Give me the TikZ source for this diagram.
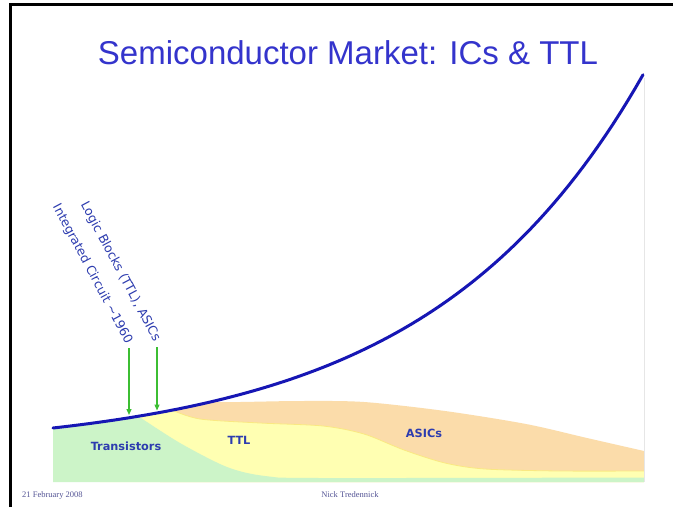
\documentclass[tikz,border=0pt]{standalone}
\usepackage{fontspec}
\setmainfont{Liberation Sans}
\newfontfamily\notefont{DejaVu Sans}
\newfontfamily\footfont{Liberation Serif}
\usetikzlibrary{arrows.meta}

\definecolor{titleblue}{RGB}{52,52,204}
\definecolor{curveblue}{RGB}{22,22,180}
\definecolor{labelblue}{RGB}{45,60,175}
\definecolor{arrowgreen}{RGB}{60,190,50}
\definecolor{transgreen}{RGB}{204,244,200}
\definecolor{ttlyellow}{RGB}{255,255,178}
\definecolor{ttledge}{RGB}{250,232,130}
\definecolor{asicpeach}{RGB}{251,220,170}
\definecolor{footblue}{RGB}{85,85,150}
\definecolor{edgegray}{RGB}{230,230,230}

\tikzset{
  titletext/.style={font=\fontsize{33}{36}\selectfont, text=titleblue, inner sep=0pt},
  arealabel/.style={font=\notefont\bfseries\fontsize{11.3}{13}\selectfont, text=labelblue, inner sep=0pt},
  eventlabel/.style={font=\notefont\fontsize{12.5}{14}\selectfont, text=labelblue, inner sep=0pt, rotate=-62, anchor=east},
  eventarrow/.style={draw=arrowgreen, line width=1.2pt, -{Triangle[length=6pt,width=5pt]}},
  footnote/.style={font=\footfont\fontsize{8.5}{10}\selectfont, text=footblue, inner sep=0pt},
  marketcurve/.style={draw=curveblue, line width=3pt, line cap=round}
}
% total market size as a function of the horizontal position
\def\market(#1){452-24*exp(0.00467*(#1-53))}

\begin{document}
\begin{tikzpicture}[x=1pt,y=-1pt]
\useasboundingbox (0,0) rectangle (673,507);
\fill[white] (0,0) rectangle (673,507);

% slide frame (left and top)
\draw[line width=3pt] (10.5,507) -- (10.5,4.5) -- (673,4.5);

% title
\node[titletext, anchor=base] (title) at (348,64) {Semiconductor Market: ICs \& TTL};

% right edge of the plot area
\draw[edgegray, line width=1pt] (644.5,78) -- (644.5,482);

% market segments, kept below the total-market curve
\begin{scope}
  \clip plot[domain=53:643, samples=80] (\x, {452-24*exp(0.00467*(\x-53))})
        -- (644,490) -- (53,490) -- cycle;
  % ASICs
  \fill[asicpeach] (160,380) -- (203,380)
     -- plot[smooth] coordinates {(206,402) (240,402) (300,401) (364,402) (445,411) (526,424) (587,438) (644,451)}
     -- (644,482) -- (160,482) -- cycle;
  % TTL
  \fill[ttlyellow] (100,380) -- (172,380)
     -- plot[smooth] coordinates {(172,410) (200,419) (260,423) (323,426) (364,434) (404,450) (445,463) (485,469) (560,471) (644,471)}
     -- (644,482) -- (100,482) -- cycle;
  \draw[ttledge, line width=0.8pt] plot[smooth] coordinates {(172,410) (200,419) (260,423) (323,426) (364,434) (404,450) (445,463) (485,469) (560,471) (644,471)};
  % Transistors
  \fill[transgreen] (53,380) -- (130,380)
     -- plot[smooth] coordinates {(138,416) (180,443) (227,467) (265,476) (320,478) (644,477.5)}
     -- (644,482) -- (53,482) -- cycle;
\end{scope}

% total market
\draw[marketcurve] plot[domain=53:643, samples=80] (\x, {452-24*exp(0.00467*(\x-53))});

% points on the curve that the events mark
\coordinate (icyear) at (129,415);
\coordinate (ttlyear) at (157,410.5);

% segment labels
\node[arealabel] (trans) at (126,446) {Transistors};
\node[arealabel] (ttl) at (239,440) {TTL};
\node[arealabel] (asics) at (424,433) {ASICs};

% events
\node[eventlabel] (ic) at (129,343) {Integrated Circuit \textasciitilde1960};
\node[eventlabel] (logic) at (157,341) {Logic Blocks (TTL), ASICs};
\draw[eventarrow] ([shift={(0,5)}]ic.east) -- (icyear);
\draw[eventarrow] ([shift={(0,6)}]logic.east) -- (ttlyear);

% footer
\node[footnote, anchor=base west] (date) at (22,497) {21 February 2008};
\node[footnote, anchor=base] (author) at (350,497) {Nick Tredennick};
\end{tikzpicture}
\end{document}
